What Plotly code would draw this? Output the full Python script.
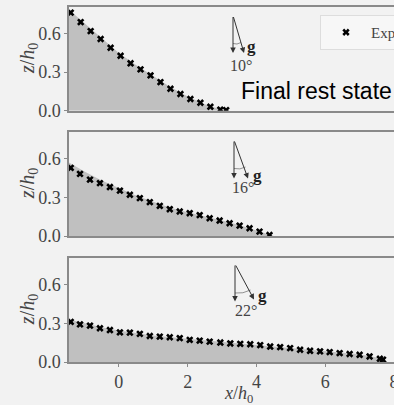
import plotly.graph_objects as go
from plotly.subplots import make_subplots

# ---------------- data ----------------
exp1_x = [-1.40, -1.11, -0.82, -0.53, -0.24, 0.05, 0.34, 0.63, 0.92, 1.21, 1.50, 1.79, 2.08, 2.37, 2.66, 2.95, 3.12]
exp1_z = [0.763, 0.690, 0.620, 0.558, 0.490, 0.428, 0.369, 0.322, 0.275, 0.223, 0.171, 0.130, 0.091, 0.062, 0.031, 0.008, 0.005]
sim1_x = [-1.45, -1.0, -0.5, 0.0, 0.5, 1.0, 1.5, 2.0, 2.5, 2.9, 3.2]
sim1_z = [0.785, 0.680, 0.565, 0.450, 0.355, 0.270, 0.185, 0.110, 0.050, 0.015, 0.0]

exp2_x = [-1.40, -1.13, -0.84, -0.55, -0.26, 0.03, 0.32, 0.61, 0.90, 1.19, 1.48, 1.77, 2.06, 2.35, 2.64, 2.93, 3.22, 3.51, 3.80, 4.09, 4.38]
exp2_z = [0.529, 0.482, 0.438, 0.410, 0.380, 0.352, 0.320, 0.294, 0.263, 0.234, 0.208, 0.190, 0.177, 0.162, 0.138, 0.120, 0.099, 0.080, 0.060, 0.034, 0.008]
sim2_x = [-1.45, -1.0, -0.5, 0.0, 0.5, 1.0, 1.5, 2.0, 2.5, 3.0, 3.5, 4.0, 4.5]
sim2_z = [0.570, 0.500, 0.430, 0.370, 0.315, 0.265, 0.220, 0.185, 0.155, 0.120, 0.085, 0.045, 0.0]

exp3_x = [-1.40, -1.13, -0.84, -0.55, -0.26, 0.03, 0.32, 0.61, 0.90, 1.19, 1.48, 1.77, 2.06, 2.35, 2.64, 2.95,
          3.24, 3.53, 3.82, 4.11, 4.40, 4.69, 4.98, 5.27, 5.56, 5.85, 6.13, 6.42, 6.71, 7.00, 7.29, 7.59, 7.68]
exp3_z = [0.312, 0.292, 0.282, 0.262, 0.248, 0.230, 0.228, 0.218, 0.202, 0.197, 0.192, 0.185, 0.172, 0.166, 0.158, 0.151,
          0.144, 0.141, 0.138, 0.131, 0.120, 0.115, 0.108, 0.095, 0.087, 0.082, 0.077, 0.069, 0.062, 0.056, 0.043, 0.025, 0.018]
sim3_x = [-1.45, -1.0, -0.5, 0.0, 0.5, 1.0, 2.0, 3.0, 4.0, 5.0, 6.0, 7.0, 7.5, 7.8]
sim3_z = [0.330, 0.300, 0.270, 0.245, 0.225, 0.205, 0.180, 0.155, 0.135, 0.110, 0.085, 0.060, 0.035, 0.0]

angles = ["10°", "16°", "22°"]
x_ticks = [0, 2, 4, 6, 8]
y_ticks = [0.0, 0.3, 0.6]

# ---------------- figure ----------------
W, H = 394, 405
ML, MR, MT, MB = 69, 0, 7, 43
PW, PH = W - ML - MR, H - MT - MB
BG = "#f2f2f2"
AX = "#8a8a8a"
SERIF = "Liberation Serif"
TXT = "#444444"

def px(x):
    return (x - ML) / PW

def py(y):
    return (H - MB - y) / PH

fig = make_subplots(rows=3, cols=1, shared_xaxes=True)

sims = [(sim1_x, sim1_z), (sim2_x, sim2_z), (sim3_x, sim3_z)]
exps = [(exp1_x, exp1_z), (exp2_x, exp2_z), (exp3_x, exp3_z)]
for i in range(3):
    sx, sz = sims[i]
    ex, ez = exps[i]
    fig.add_trace(go.Scatter(x=sx, y=sz, mode="lines", fill="tozeroy", fillcolor="#c0c0c0",
                             line=dict(width=0, color="#c0c0c0"), showlegend=False, hoverinfo="skip"),
                  row=i + 1, col=1)
    fig.add_trace(go.Scatter(x=ex, y=ez, mode="markers", name="Experiment",
                             marker=dict(symbol="x", size=6.5, color="black", line=dict(width=0)),
                             showlegend=(i == 0)),
                  row=i + 1, col=1)

# panel pixel boxes (top, bottom)
panels = [(7.3, 110.7), (132.3, 236.0), (258.3, 362.0)]
for i, (t, b) in enumerate(panels):
    dom = [max(0, py(b)), min(1, py(t))]
    yname = "yaxis" if i == 0 else f"yaxis{i+1}"
    xname = "xaxis" if i == 0 else f"xaxis{i+1}"
    fig.layout[yname].update(domain=dom, range=[0, 0.805], tickvals=y_ticks, tickformat=".1f",
                             showline=True, linecolor=AX, linewidth=1.5, mirror=False,
                             ticks="outside", ticklen=3, tickcolor=AX, showgrid=False, zeroline=False,
                             tickfont=dict(family=SERIF, size=18, color=TXT))
    last = (i == 2)
    fig.layout[xname].update(range=[-1.45, 8.0], showline=True, linecolor=AX, linewidth=1.5, mirror=True,
                             showgrid=False, zeroline=False, tickvals=x_ticks,
                             ticks="outside" if last else "", ticklen=3, tickcolor=AX,
                             showticklabels=last, ticklabeloverflow="allow",
                             tickfont=dict(family=SERIF, size=18, color=TXT))
    # y title
    fig.add_annotation(xref="paper", yref="paper", x=px(28), y=py((t + b) / 2),
                       text="<i>z</i>/<i>h</i><sub>0</sub>", textangle=-90, showarrow=False,
                       font=dict(family=SERIF, size=20, color=TXT), xanchor="center", yanchor="middle")

# x title
fig.add_annotation(xref="paper", yref="paper", x=px(238), y=py(394),
                   text="<i>x</i>/<i>h</i><sub>0</sub>", showarrow=False,
                   font=dict(family=SERIF, size=18, color=TXT), xanchor="center", yanchor="middle")

# gravity arrows
arrows = [
    dict(top=(233, 15.5), v=(233, 53), t=(244, 53), g=(252, 46.5), lab=(240.7, 65), arc=((233, 43.5), (237, 45), (241, 42.5))),
    dict(top=(234, 140), v=(234, 178.5), t=(248, 178.5), g=(257.3, 175), lab=(243.3, 187.5), arc=((234, 168.5), (240, 170), (245.5, 167))),
    dict(top=(235, 264), v=(235, 301.5), t=(254, 299.5), g=(262.3, 295.7), lab=(245.7, 310), arc=((235, 293), (243, 294), (250.5, 290))),
]
for i, a in enumerate(arrows):
    tx, ty = a["top"]
    for hx, hy in (a["v"], a["t"]):
        fig.add_annotation(xref="paper", yref="paper", x=px(hx), y=py(hy), ax=tx - hx, ay=ty - hy,
                           axref="pixel", ayref="pixel", text="", showarrow=True,
                           arrowhead=2, arrowsize=1.1, arrowwidth=1, arrowcolor="#333333")
    fig.add_annotation(xref="paper", yref="paper", x=px(a["g"][0]), y=py(a["g"][1]), text="<b>g</b>",
                       showarrow=False, font=dict(family=SERIF, size=17, color="#222222"),
                       xanchor="center", yanchor="middle")
    fig.add_annotation(xref="paper", yref="paper", x=px(a["lab"][0]), y=py(a["lab"][1]), text=angles[i],
                       showarrow=False, font=dict(family=SERIF, size=16, color=TXT),
                       xanchor="center", yanchor="middle")
    (x0, y0), (cx, cy), (x1, y1) = a["arc"]
    fig.add_shape(type="path", xref="paper", yref="paper",
                  path=f"M {px(x0)},{py(y0)} Q {px(cx)},{py(cy)} {px(x1)},{py(y1)}",
                  line=dict(color="#777777", width=0.8))

# label
fig.add_annotation(xref="paper", yref="paper", x=px(239), y=py(91), text="Final rest state",
                   showarrow=False, font=dict(family="Liberation Sans", size=23, color="black"),
                   xanchor="left", yanchor="middle")

fig.update_layout(
    width=W, height=H, margin=dict(l=ML, r=MR, t=MT, b=MB, autoexpand=False),
    paper_bgcolor=BG, plot_bgcolor=BG,
    legend=dict(x=px(320), y=py(15), xanchor="left", yanchor="top", itemwidth=40,
                bgcolor="#f7f7f7", bordercolor="#dddddd", borderwidth=1,
                font=dict(family=SERIF, size=15, color=TXT)),
    showlegend=True,
)

fig.write_html("out.html", config={"displayModeBar": False},
               post_script="document.body.style.margin='0';document.body.style.overflow='hidden';")
